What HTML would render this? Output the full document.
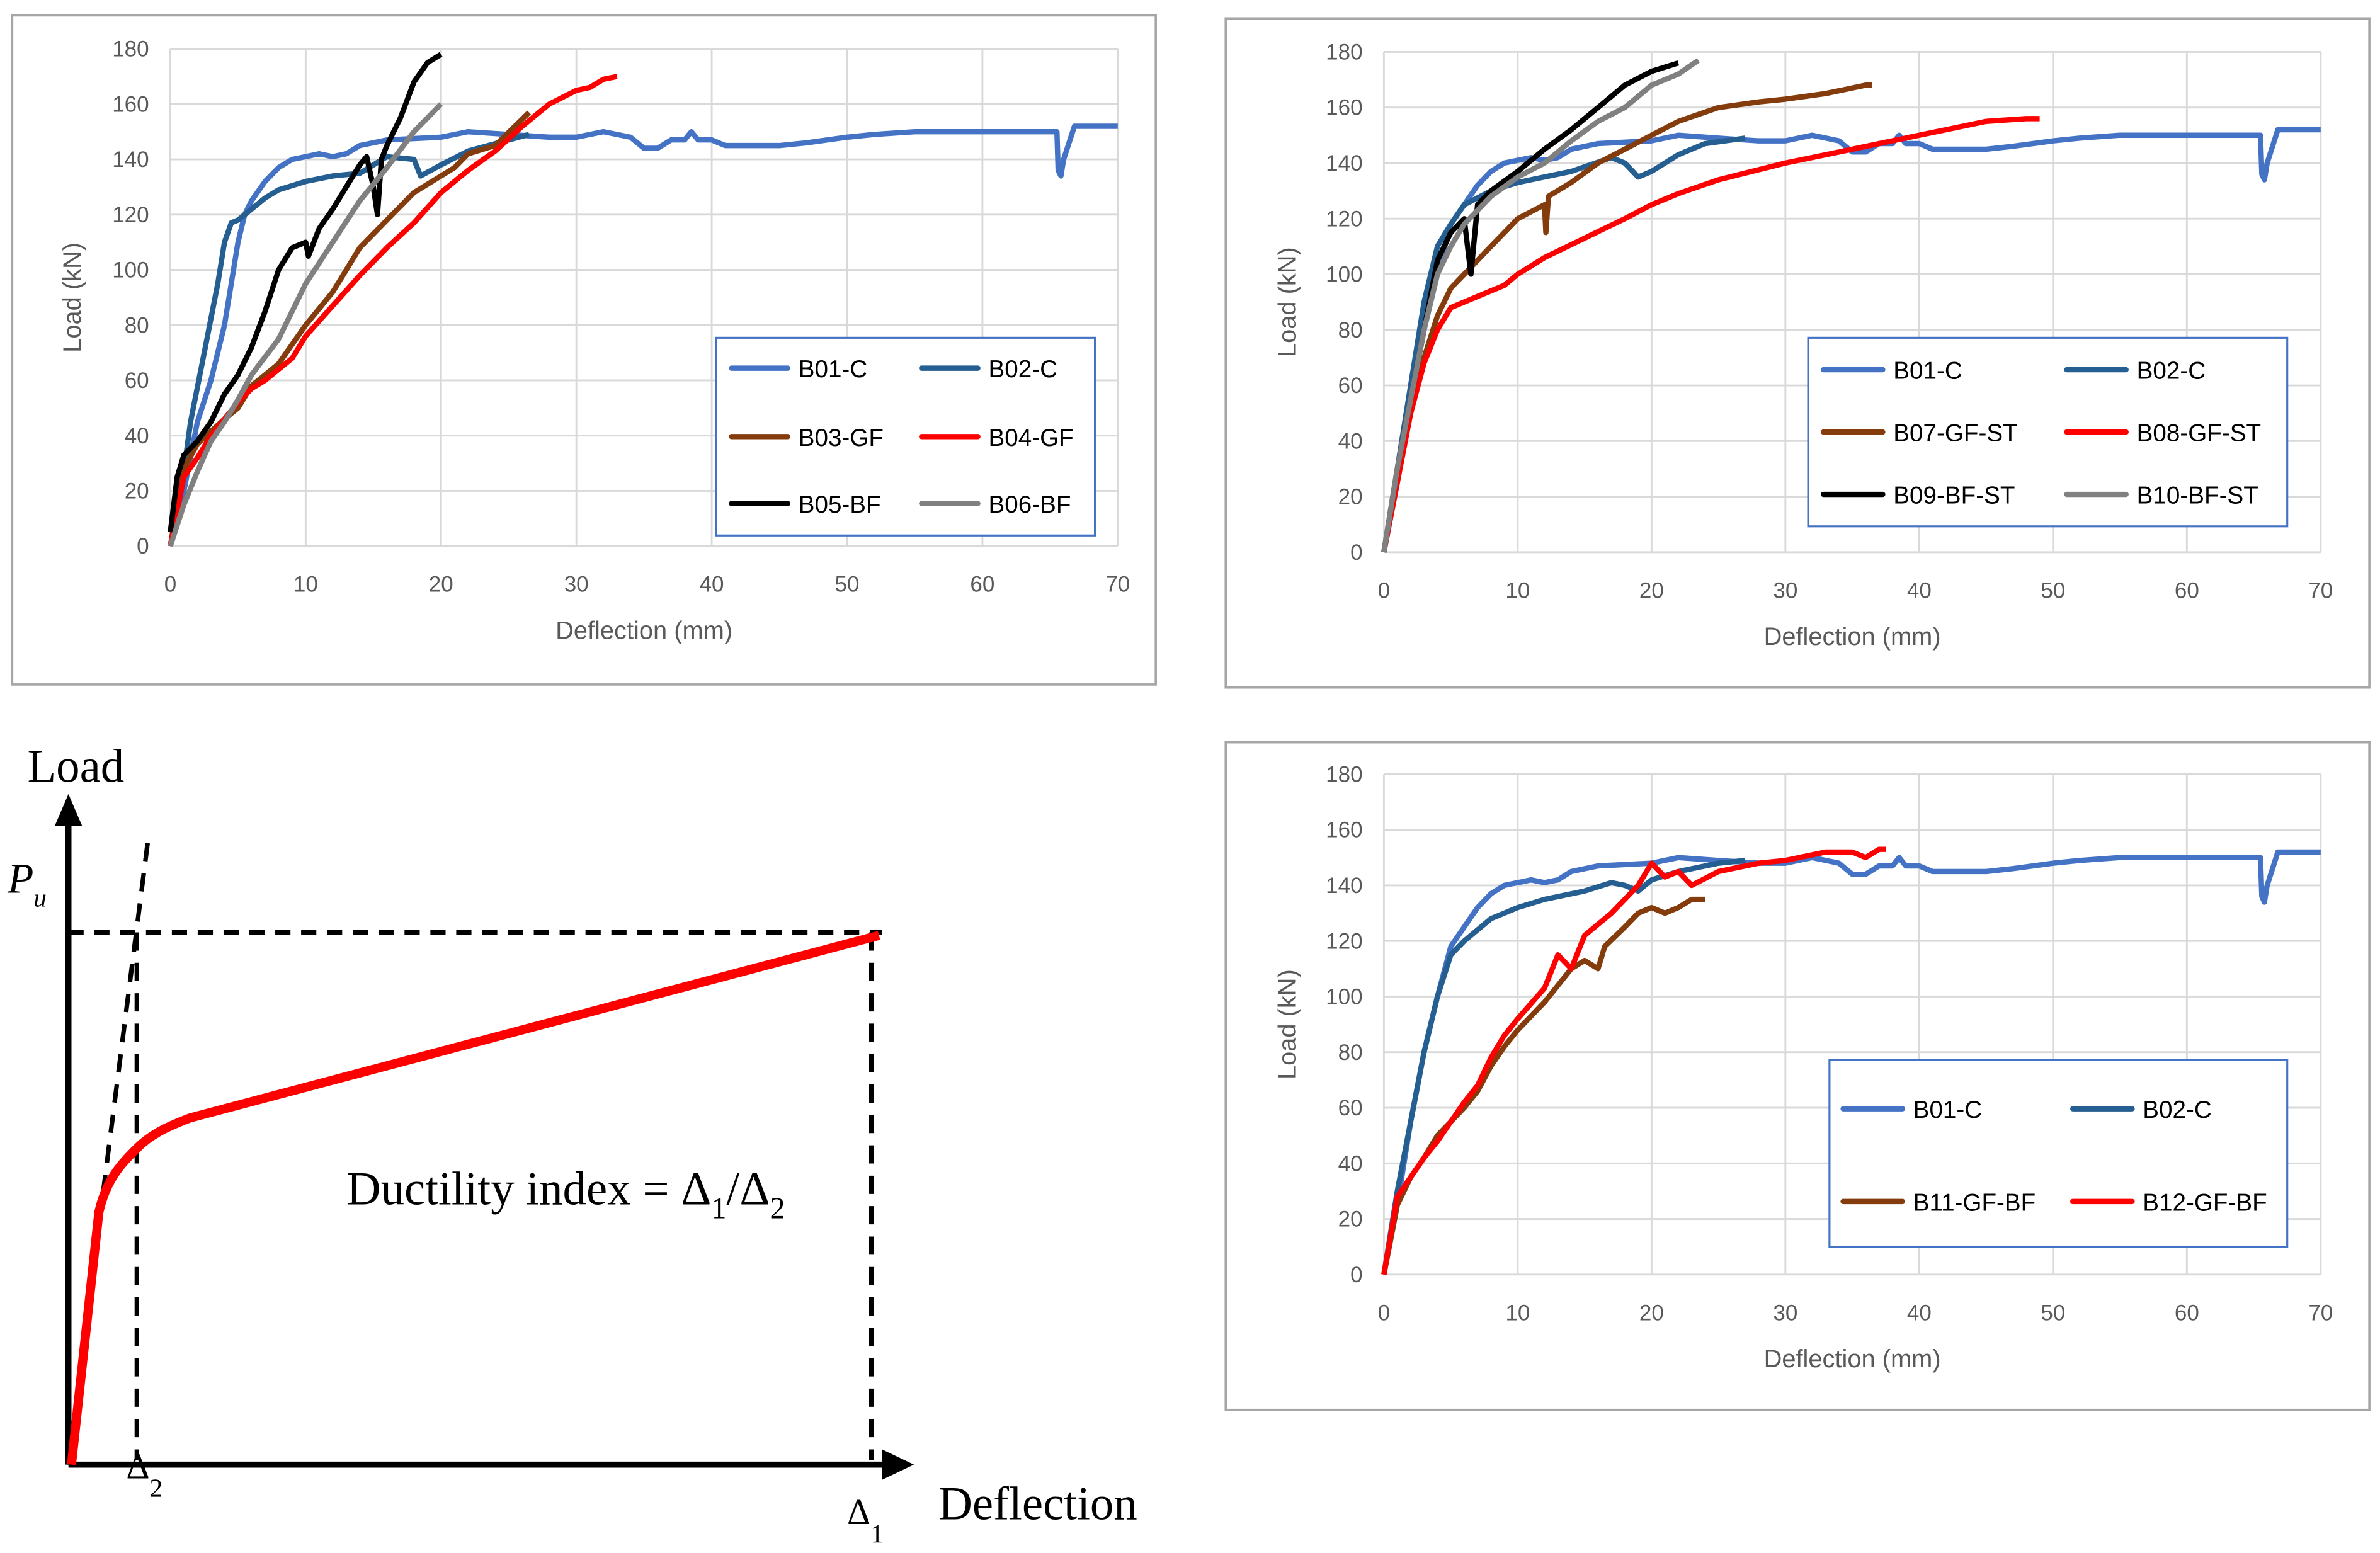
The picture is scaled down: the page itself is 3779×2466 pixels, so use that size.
<!DOCTYPE html>
<html><head><meta charset="utf-8"><style>
html,body{margin:0;padding:0;background:#fff;}
svg{display:block;}
</style></head><body>
<svg id="fig" width="3779" height="2466" viewBox="0 0 1565 1021" xmlns="http://www.w3.org/2000/svg" font-family="Liberation Sans, sans-serif">
<rect x="0" y="0" width="1565" height="1021" fill="#fff"/>
<g id="c1"></g>
<g id="c2"></g>
<g id="c3"></g>
<g id="schem">
  <line x1="45" y1="963" x2="45" y2="540" stroke="#000" stroke-width="4"/>
  <polygon points="45,522 36,543 54,543" fill="#000"/>
  <line x1="45" y1="963" x2="583" y2="963" stroke="#000" stroke-width="4"/>
  <polygon points="601,963 580,953 580,973" fill="#000"/>
  <line x1="45" y1="613" x2="580" y2="613" stroke="#000" stroke-width="3" stroke-dasharray="10,7"/>
  <line x1="573" y1="613" x2="573" y2="960" stroke="#000" stroke-width="3" stroke-dasharray="12,8"/>
  <line x1="90" y1="613" x2="90" y2="960" stroke="#000" stroke-width="3" stroke-dasharray="12,8"/>
  <line x1="45" y1="963" x2="98" y2="547" stroke="#000" stroke-width="3" stroke-dasharray="12,8"/>
  <path d="M47,963 L65,797 C70,775 80,765 90,755 C100,745 112,740 125,735 L578,615" fill="none" stroke="#f00" stroke-width="6"/>
  <text x="18" y="514" font-family="Liberation Serif, serif" font-size="31">Load</text>
  <text x="5" y="587" font-family="Liberation Serif, serif" font-style="italic" font-size="28">P<tspan font-size="17" dy="9">u</tspan></text>
  <text x="228" y="792" font-family="Liberation Serif, serif" font-size="31">Ductility index = Δ<tspan font-size="20" dy="9">1</tspan><tspan dy="-9">/Δ</tspan><tspan font-size="20" dy="9">2</tspan></text>
  <text x="83" y="972" font-family="Liberation Serif, serif" font-size="24">Δ<tspan font-size="17" dy="12">2</tspan></text>
  <text x="557" y="1002" font-family="Liberation Serif, serif" font-size="24">Δ<tspan font-size="17" dy="12">1</tspan></text>
  <text x="617" y="999" font-family="Liberation Serif, serif" font-size="31">Deflection</text>
</g>
</svg>
<script>
const xTicks = [0,10,20,30,40,50,60,70];
const yTicks = [0,20,40,60,80,100,120,140,160,180];
const colB01 = "#4472C4", colB02 = "#255E91", colBrown = "#843C0C", colRed = "#FF0000", colBlack = "#000000", colGray = "#808080";

const b01 = [[0,0],[1,20],[2,45],[3,60],[4,80],[5,110],[5.5,120],[6,125],[7,132],[8,137],[9,140],[10,141],[11,142],[12,141],[13,142],[14,145],[16,147],[20,148],[22,150],[25,149],[28,148],[30,148],[32,150],[34,148],[35,144],[36,144],[37,147],[38,147],[38.5,150],[39,147],[40,147],[41,145],[45,145],[47,146],[50,148],[52,149],[55,150],[60,150],[63,150],[65.5,150],[65.6,136],[65.8,134],[66,140],[66.8,152],[70,152]];
const b01b = [[0,0],[1,25],[2,55],[3,80],[4,100],[5,118],[6,125],[7,132],[8,137],[9,140],[10,141],[11,142],[12,141],[13,142],[14,145],[16,147],[20,148],[22,150],[25,149],[28,148],[30,148],[32,150],[34,148],[35,144],[36,144],[37,147],[38,147],[38.5,150],[39,147],[40,147],[41,145],[45,145],[47,146],[50,148],[52,149],[55,150],[60,150],[63,150],[65.5,150],[65.6,136],[65.8,134],[66,140],[66.8,152],[70,152]];
const b02 = [[0,0],[0.8,20],[1.5,45],[2.5,70],[3.5,95],[4,110],[4.5,117],[5,118],[6,122],[7,126],[8,129],[10,132],[12,134],[14,135],[16,141],[18,140],[18.5,134],[20,138],[22,143],[25,147],[26.5,149]];
const b02b = [[0,0],[1,30],[2,60],[3,90],[4,110],[5,118],[6,125],[8,130],[10,133],[14,137],[17,142],[18,140],[19,135],[20,137],[22,143],[24,147],[27,149]];
const b02c = [[0,0],[1,30],[2,55],[3,80],[4,100],[5,115],[6,120],[8,128],[10,132],[12,135],[15,138],[17,141],[18,140],[19,138],[20,142],[22,145],[25,148],[27,149]];
const b03 = [[0,0],[1,28],[2,37],[4,46],[5,50],[6,58],[7,62],[8,66],[9,73],[10,80],[12,92],[14,108],[16,118],[18,128],[20,134],[21,137],[22,142],[24,145],[26.5,157]];
const b04 = [[0,0],[1,25],[2,32],[3,40],[4,46],[5,52],[6,57],[7,60],[8,64],[9,68],[10,76],[12,87],[14,98],[16,108],[18,117],[20,128],[22,136],[24,143],[26,152],[28,160],[30,165],[31,166],[32,169],[33,170]];
const b05 = [[0,5],[0.5,25],[1,33],[2,38],[3,45],[4,55],[5,62],[6,72],[7,85],[8,100],[9,108],[10,110],[10.2,105],[11,115],[12,122],[13,130],[14,138],[14.5,141],[15,130],[15.3,120],[15.6,140],[16,145],[17,155],[18,168],[19,175],[20,178]];
const b06 = [[0,0],[1,15],[2,27],[3,38],[4,45],[5,53],[6,62],[8,75],[10,95],[12,110],[14,125],[16,137],[18,150],[20,160]];
const b07 = [[0,0],[1,30],[2,50],[3,70],[4,85],[5,95],[6,100],[8,110],[10,120],[12,125],[12.1,115],[12.3,128],[14,133],[16,140],[18,145],[20,150],[22,155],[25,160],[28,162],[30,163],[33,165],[36,168],[36.5,168]];
const b08 = [[0,0],[1,25],[2,50],[3,68],[4,80],[5,88],[7,92],[9,96],[10,100],[12,106],[15,113],[18,120],[20,125],[22,129],[25,134],[30,140],[35,145],[38,148],[40,150],[42,152],[45,155],[48,156],[49,156]];
const b09 = [[0,0],[1,30],[2,55],[3,80],[4,105],[5,115],[6,120],[6.5,100],[7,125],[8,130],[10,137],[12,145],[14,152],[16,160],[18,168],[20,173],[22,176]];
const b10 = [[0,0],[1,30],[2,55],[3,80],[4,100],[5,110],[6,118],[8,128],[10,135],[12,140],[14,148],[16,155],[18,160],[20,168],[22,172],[23.5,177]];
const b11 = [[0,0],[1,25],[2,35],[3,42],[4,50],[5,55],[6,60],[7,66],[8,75],[9,82],[10,88],[12,98],[14,110],[15,113],[16,110],[16.5,118],[18,125],[19,130],[20,132],[21,130],[22,132],[23,135],[24,135]];
const b12 = [[0,0],[1,28],[2,35],[3,42],[4,48],[5,55],[6,62],[7,68],[8,78],[9,86],[10,92],[12,103],[13,115],[14,110],[15,122],[17,130],[19,140],[20,148],[21,143],[22,145],[23,140],[25,145],[28,148],[30,149],[33,152],[35,152],[36,150],[37,153],[37.5,153]];

const NS = "http://www.w3.org/2000/svg";
function mk(parent, tag, attrs){ const e=document.createElementNS(NS,tag); for(const k in attrs) e.setAttribute(k,attrs[k]); parent.appendChild(e); return e; }

function drawChart(gid, cfg){
  const g = document.getElementById(gid);
  const sx = v => cfg.x0 + (cfg.x1-cfg.x0)*v/70;
  const sy = v => cfg.y0 - (cfg.y0-cfg.y1)*v/180;
  const border = mk(g,'rect',{x:cfg.bx,y:cfg.by,width:cfg.bw,height:cfg.bh,fill:'#fff',stroke:'#A6A6A6','stroke-width':1.5});
  
  
  yTicks.forEach(t=>{
    const l = mk(g,'line',{x1:cfg.x0,x2:cfg.x1,y1:sy(t),y2:sy(t),stroke:'#D9D9D9','stroke-width':1.2});
    
    
    const tx = mk(g,'text',{x:cfg.x0-14,y:sy(t)+5,'text-anchor':'end','font-size':14.5,fill:'#595959'});
    tx.textContent = t;
    
    
  });
  xTicks.forEach(t=>{
    const l = mk(g,'line',{x1:sx(t),x2:sx(t),y1:cfg.y0,y2:cfg.y1,stroke:'#D9D9D9','stroke-width':1.2});
    
    
    const tx = mk(g,'text',{x:sx(t),y:cfg.y0+30,'text-anchor':'middle','font-size':14.5,fill:'#595959'});
    tx.textContent = t;
    
    
  });
  const xt = mk(g,'text',{x:(cfg.x0+cfg.x1)/2,y:cfg.y0+61,'text-anchor':'middle','font-size':16.5,fill:'#595959'});
  xt.textContent = 'Deflection (mm)';
  
  
  const yc = (cfg.y0+cfg.y1)/2;
  const yt = mk(g,'text',{x:cfg.ylx,y:yc,'text-anchor':'middle','font-size':16.5,fill:'#595959',transform:'rotate(-90 '+cfg.ylx+' '+yc+')'});
  yt.textContent = 'Load (kN)';
  
  
  cfg.series.forEach(s=>{
    const d = s.data.map((p,i)=>(i?'L':'M')+sx(p[0]).toFixed(1)+','+sy(p[1]).toFixed(1)).join(' ');
    const p = mk(g,'path',{d:d,fill:'none',stroke:s.color,'stroke-width':3.5,'stroke-linejoin':'round'});
    
    
  });
  const L = cfg.legend;
  const lb = mk(g,'rect',{x:L.x,y:L.y,width:L.w,height:L.h,fill:'#fff',stroke:'#4472C4','stroke-width':1.3});
  
  
  cfg.series.forEach((s,i)=>{
    const col = i%2, row = Math.floor(i/2);
    const lx = L.cols[col], ly = L.rows[row];
    const ln = mk(g,'line',{x1:lx,x2:lx+L.lw,y1:ly,y2:ly,stroke:s.color,'stroke-width':3.5,'stroke-linecap':'round'});
    
    
    const tx = mk(g,'text',{x:lx+L.lw+7,y:ly+6,'font-size':16,fill:'#000'});
    tx.textContent = s.name;
    
    
  });
}

drawChart('c1',{bx:8,by:10,bw:752,bh:440,x0:112,x1:735,y0:359,y1:32,ylx:53,
  legend:{x:471,y:222,w:249,h:130,cols:[481,606],rows:[242,287,331],lw:37},
  series:[{name:'B01-C',color:colB01,data:b01},{name:'B02-C',color:colB02,data:b02},
          {name:'B03-GF',color:colBrown,data:b03},{name:'B04-GF',color:colRed,data:b04},
          {name:'B05-BF',color:colBlack,data:b05},{name:'B06-BF',color:colGray,data:b06}]});
drawChart('c2',{bx:806,by:12,bw:752,bh:440,x0:910,x1:1526,y0:363,y1:34,ylx:852,
  legend:{x:1189,y:222,w:315,h:124,cols:[1199,1359],rows:[243,284,325],lw:39},
  series:[{name:'B01-C',color:colB01,data:b01b},{name:'B02-C',color:colB02,data:b02b},
          {name:'B07-GF-ST',color:colBrown,data:b07},{name:'B08-GF-ST',color:colRed,data:b08},
          {name:'B09-BF-ST',color:colBlack,data:b09},{name:'B10-BF-ST',color:colGray,data:b10}]});
drawChart('c3',{bx:806,by:488,bw:752,bh:439,x0:910,x1:1526,y0:838,y1:509,ylx:852,
  legend:{x:1203,y:697,w:301,h:123,cols:[1212,1363],rows:[729,790],lw:39},
  series:[{name:'B01-C',color:colB01,data:b01b},{name:'B02-C',color:colB02,data:b02c},
          {name:'B11-GF-BF',color:colBrown,data:b11},{name:'B12-GF-BF',color:colRed,data:b12}]});
</script>
</body></html>
